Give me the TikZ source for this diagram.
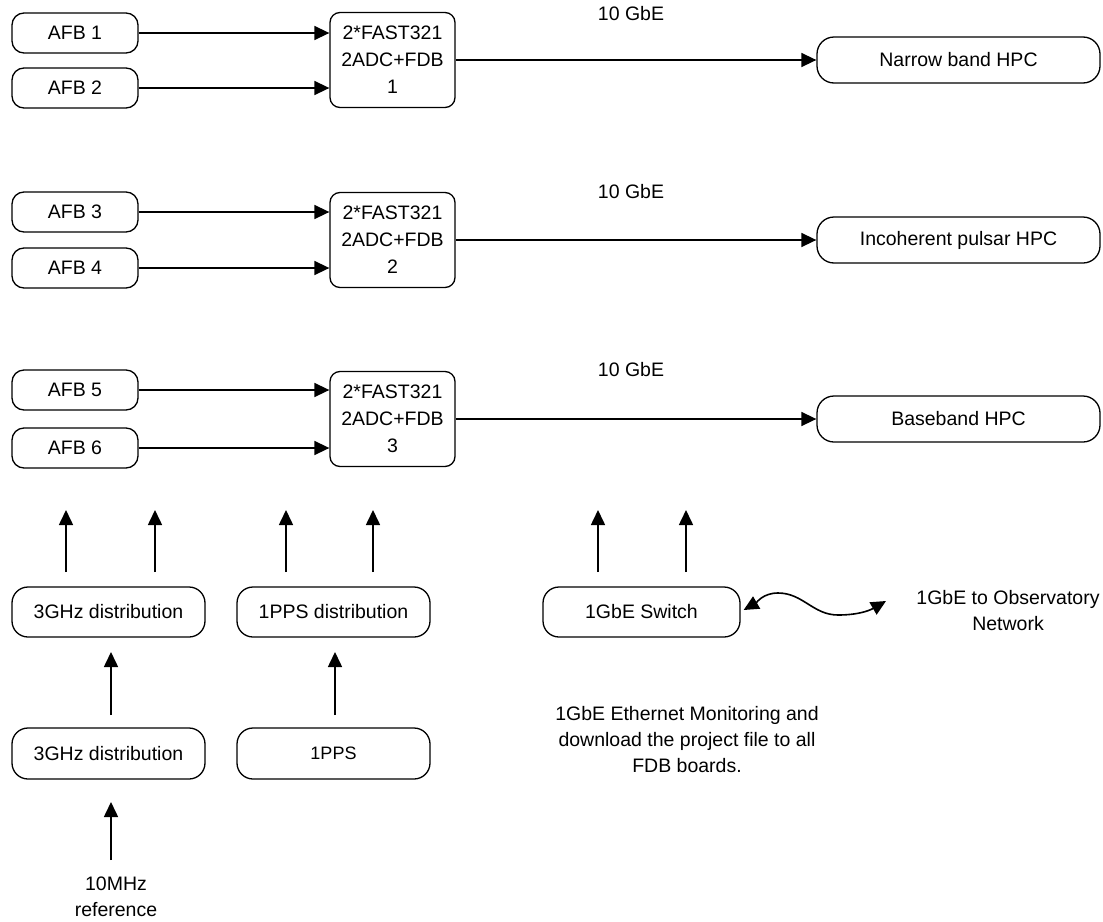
\documentclass[tikz,border=0pt]{standalone}
\usepackage{fontspec}
\setmainfont{Liberation Sans}
\usetikzlibrary{arrows.meta}
\begin{document}
\begin{tikzpicture}[x=1pt,y=-1pt,
  every node/.style={font=\fontsize{19.5}{26}\selectfont, inner sep=0pt},
  box/.style={draw, line width=1.3pt, rounded corners=12pt, minimum width=126pt, minimum height=40pt},
  fast/.style={draw, line width=1.3pt, rounded corners=10pt, minimum width=125pt, minimum height=95pt, align=center, font=\fontsize{19.5}{27}\selectfont},
  hpc/.style={draw, line width=1.3pt, rounded corners=17pt, minimum width=283pt, minimum height=46pt},
  dist/.style={draw, line width=1.3pt, rounded corners=16pt, minimum width=193pt, minimum height=50pt},
  tip/.style={Triangle[length=15pt,width=14pt]},
  conn/.style={line width=1.6pt, -{Triangle[length=15pt,width=14pt]}},
  lbl/.style={align=center}
]
\useasboundingbox (0,0) rectangle (1103,921);

% Row 1
\node[box] (afb1) at (75,33) {AFB 1};
\node[box] (afb2) at (75,88) {AFB 2};
\node[fast] (fast1) at (392.5,60) {2*FAST321\\2ADC+FDB\\1};
\node[hpc] (hpc1) at (958.5,60) {Narrow band HPC};
\node[lbl] (g1) at (631,14) {10 GbE};
\draw[conn] (afb1) -- (afb1 -| fast1.west);
\draw[conn] (afb2) -- (afb2 -| fast1.west);
\draw[conn] (fast1) -- (hpc1);

% Row 2
\node[box] (afb3) at (75,212) {AFB 3};
\node[box] (afb4) at (75,268) {AFB 4};
\node[fast] (fast2) at (392.5,240) {2*FAST321\\2ADC+FDB\\2};
\node[hpc] (hpc2) at (958.5,240) {Incoherent pulsar HPC};
\node[lbl] (g2) at (631,192) {10 GbE};
\draw[conn] (afb3) -- (afb3 -| fast2.west);
\draw[conn] (afb4) -- (afb4 -| fast2.west);
\draw[conn] (fast2) -- (hpc2);

% Row 3
\node[box] (afb5) at (75,390) {AFB 5};
\node[box] (afb6) at (75,448) {AFB 6};
\node[fast] (fast3) at (392.5,419) {2*FAST321\\2ADC+FDB\\3};
\node[hpc] (hpc3) at (958.5,419) {Baseband HPC};
\node[lbl] (g3) at (631,370) {10 GbE};
\draw[conn] (afb5) -- (afb5 -| fast3.west);
\draw[conn] (afb6) -- (afb6 -| fast3.west);
\draw[conn] (fast3) -- (hpc3);

% Distribution boxes
\node[dist] (ghzA) at (108.5,612) {3GHz distribution};
\node[dist] (ppsA) at (333.5,612) {1PPS distribution};
\node[dist, minimum width=197pt] (sw) at (641.5,612) {1GbE Switch};
\node[dist, minimum height=51pt] (ghzB) at (108.5,753.5) {3GHz distribution};
\node[dist, minimum height=51pt, font=\fontsize{18}{22}\selectfont] (ppsB) at (333.5,753.5) {1PPS};

% Up arrows to the boards
\foreach \x/\n in {66/u1,155/u2,286/u3,373/u4,598/u5,686/u6}{
  \coordinate (\n s) at (\x,572);
  \coordinate (\n e) at (\x,510);
  \draw[conn] (\n s) -- (\n e);
}

% Arrows between distribution stages
\coordinate (ga) at (111,715);
\coordinate (gb) at (111,652);
\draw[conn] (ga) -- (gb);
\coordinate (pa) at (335,715);
\coordinate (pb) at (335,652);
\draw[conn] (pa) -- (pb);
\coordinate (ra) at (111,860);
\coordinate (rb) at (111,802);
\draw[conn] (ra) -- (rb);

\node[lbl] (ref) at (116,897) {10MHz\\reference};

% Switch to network
\coordinate (net) at (886,601);
\node[lbl] (obs) at (1008,611) {1GbE to Observatory\\Network};
\draw[line width=1.6pt, {Triangle[length=15pt,width=14pt]}-{Triangle[length=15pt,width=14pt]}]
  (sw.east) ++(3,-2) to[out=30,in=180] (778,593) to[out=0,in=180] (838,615) to[out=0,in=210] (net);

\node[lbl] (mon) at (687,740) {1GbE Ethernet Monitoring and\\download the project file to all\\FDB boards.};
\end{tikzpicture}
\end{document}
